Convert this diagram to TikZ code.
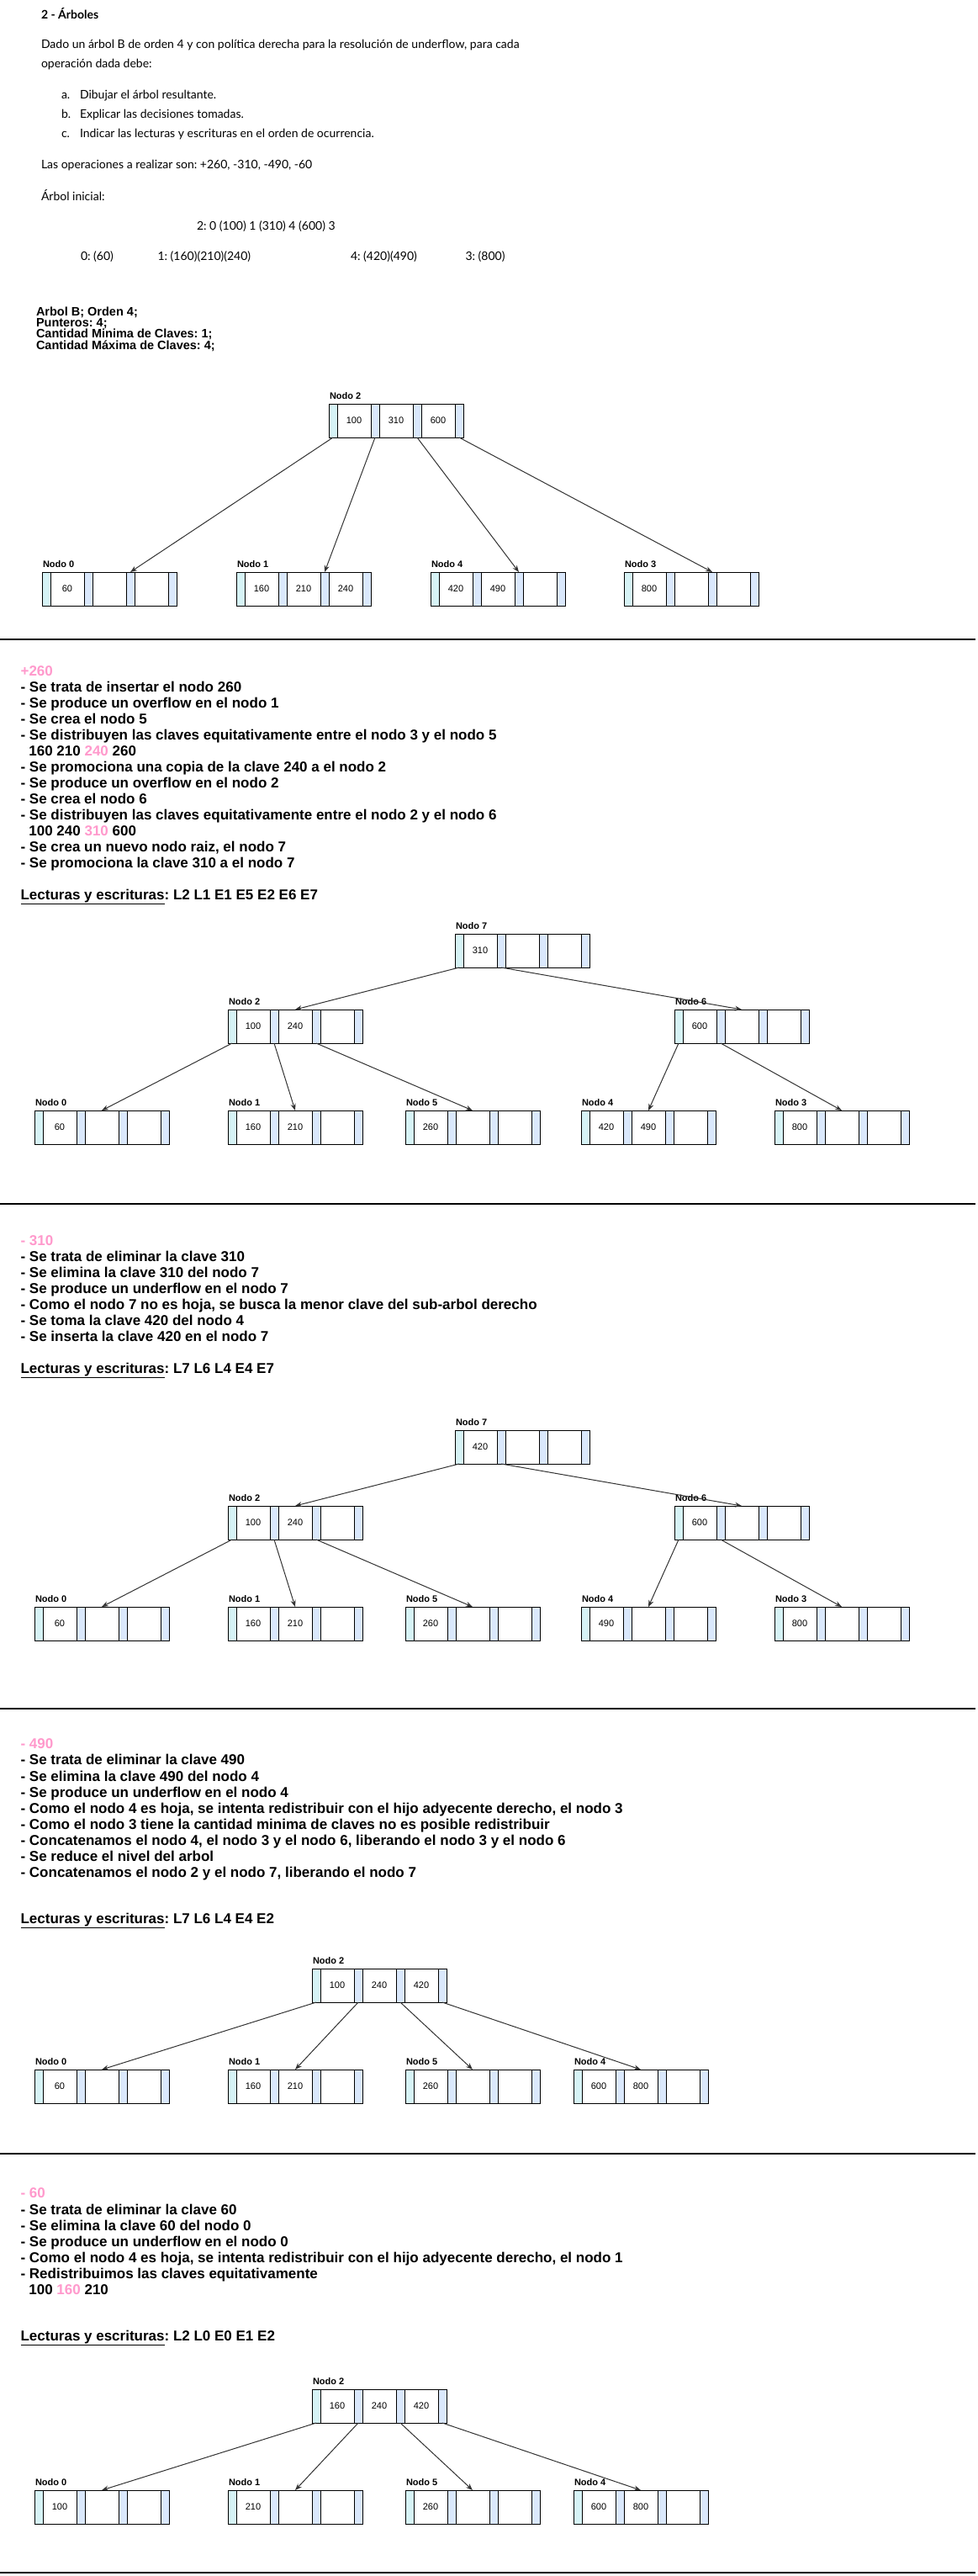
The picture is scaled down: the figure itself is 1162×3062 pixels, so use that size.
\documentclass[tikz,border=0pt]{standalone}
\usepackage{fontspec}
\setmainfont{Liberation Sans}
\newfontfamily\topfont{Lato}
\usetikzlibrary{arrows.meta}
\frenchspacing
\definecolor{pinkop}{HTML}{FF99CC}
\definecolor{ptrfirst}{HTML}{D6F3F6}
\definecolor{ptrrest}{HTML}{DAE8FC}
\definecolor{edgecol}{HTML}{333333}
\tikzset{
 every node/.style={inner sep=0pt, outer sep=0pt},
 ptrA/.style={draw=black, line width=1pt, fill=ptrfirst, minimum width=10pt, minimum height=40pt},
 ptrB/.style={ptrA, fill=ptrrest},
 cellbox/.style={draw=black, line width=1pt, fill=white, minimum width=40pt, minimum height=40pt, font=\fontsize{11}{13}\selectfont},
 nodolab/.style={anchor=base west, font=\bfseries\fontsize{11}{13}\selectfont},
 edge/.style={draw=edgecol, line width=1pt, -{Stealth[length=8pt,width=6pt]}},
 txt/.style={anchor=base west, font=\frenchspacing\bfseries\fontsize{17}{19}\selectfont},
 smalltxt/.style={anchor=base west, font=\frenchspacing\bfseries\fontsize{14.5}{16}\selectfont},
 toptxt/.style={anchor=base west, font=\frenchspacing\topfont\fontsize{14}{16}\selectfont},
 rule/.style={line width=1.6pt, draw=black}
}
\newcommand\tline[4]{\node[txt] (#1) at ({#2},{#3+6}) {#4};}
\newcommand\topline[4]{\node[toptxt] (#1) at ({#2},{#3+5}) {#4};}
\newcommand\bnode[7]{%
 \node[nodolab] (#1-lab) at ({#2+1},{#3-5.5}) {#4};
 \node[cellbox] (#1-k1) at ({#2+30},{#3+20}) {#5};
 \node[cellbox] (#1-k2) at ({#2+80},{#3+20}) {#6};
 \node[cellbox] (#1-k3) at ({#2+130},{#3+20}) {#7};
 \node[ptrA] (#1-p0) at ({#2+5},{#3+20}) {};
 \node[ptrB] (#1-p1) at ({#2+55},{#3+20}) {};
 \node[ptrB] (#1-p2) at ({#2+105},{#3+20}) {};
 \node[ptrB] (#1-p3) at ({#2+155},{#3+20}) {};
}
\begin{document}
\begin{tikzpicture}[x=1pt,y=-1pt]
\useasboundingbox (0,0) rectangle (1162,3062);
\fill[white] (0,0) rectangle (1162,3062);

% ---------- statement ----------
\node[toptxt, font=\frenchspacing\topfont\bfseries\fontsize{14}{16}\selectfont] (h1) at (49,22) {2 - Árboles};
\topline{p1}{49}{52}{Dado un árbol B de orden 4 y con política derecha para la resolución de underflow, para cada}
\topline{p2}{49}{75}{operación dada debe:}
\topline{la}{73}{112}{a.}
\topline{ta}{95}{112}{Dibujar el árbol resultante.}
\topline{lb}{73}{135}{b.}
\topline{tb}{95}{135}{Explicar las decisiones tomadas.}
\topline{lc}{73}{158}{c.}
\topline{tc}{95}{158}{Indicar las lecturas y escrituras en el orden de ocurrencia.}
\topline{ops}{49}{195}{Las operaciones a realizar son: +260, -310, -490, -60}
\topline{ini}{49}{233}{Árbol inicial:}
\topline{rt}{234}{268}{2: 0 (100) 1 (310) 4 (600) 3}
\topline{c0}{96}{304}{0: (60)}
\topline{c1}{187.5}{304}{1: (160)(210)(240)}
\topline{c4}{417}{304}{4: (420)(490)}
\topline{c3}{553.5}{304}{3: (800)}

\node[smalltxt] (b1) at (43,375) {Arbol B; Orden 4;};
\node[smalltxt] (b2) at (43,388.3) {Punteros: 4;};
\node[smalltxt] (b3) at (43,401.7) {Cantidad Minima de Claves: 1;};
\node[smalltxt] (b4) at (43,415) {Cantidad Máxima de Claves: 4;};

% ---------- tree 1 ----------
\bnode{a-n2}{391}{480}{Nodo 2}{100}{310}{600}
\bnode{a-n0}{50}{680}{Nodo 0}{60}{}{}
\bnode{a-n1}{281}{680}{Nodo 1}{160}{210}{240}
\bnode{a-n4}{512}{680}{Nodo 4}{420}{490}{}
\bnode{a-n3}{742}{680}{Nodo 3}{800}{}{}
\draw[edge] (a-n2-p0.south) -- (a-n0-p2.north);
\draw[edge] (a-n2-p1.south) -- (a-n1-p2.north);
\draw[edge] (a-n2-p2.south) -- (a-n4-p2.north);
\draw[edge] (a-n2-p3.south) -- (a-n3-p2.north);

\draw[rule] (0,760) -- (1160,760);

% ---------- +260 ----------
\tline{s1h}{24.6}{797}{\textcolor{pinkop}{+260}}
\tline{s1a}{24.6}{816}{- Se trata de insertar el nodo 260}
\tline{s1b}{24.6}{835}{- Se produce un overflow en el nodo 1}
\tline{s1c}{24.6}{854}{- Se crea el nodo 5}
\tline{s1d}{24.6}{873}{- Se distribuyen las claves equitativamente entre el nodo 3 y el nodo 5}
\tline{s1e}{34.4}{892}{160 210 \textcolor{pinkop}{240} 260}
\tline{s1f}{24.6}{911}{- Se promociona una copia de la clave 240 a el nodo 2}
\tline{s1g}{24.6}{930}{- Se produce un overflow en el nodo 2}
\tline{s1i}{24.6}{949}{- Se crea el nodo 6}
\tline{s1j}{24.6}{968}{- Se distribuyen las claves equitativamente entre el nodo 2 y el nodo 6}
\tline{s1k}{34.4}{987}{100 240 \textcolor{pinkop}{310} 600}
\tline{s1l}{24.6}{1006}{- Se crea un nuevo nodo raiz, el nodo 7}
\tline{s1m}{24.6}{1025}{- Se promociona la clave 310 a el nodo 7}
\tline{s1n}{24.6}{1063}{\underline{Lecturas y escrituras}: L2 L1 E1 E5 E2 E6 E7}

% ---------- tree 2 ----------
\bnode{b-n7}{541}{1110}{Nodo 7}{310}{}{}
\bnode{b-n2}{271}{1200}{Nodo 2}{100}{240}{}
\bnode{b-n6}{802}{1200}{Nodo 6}{600}{}{}
\bnode{b-n0}{41}{1320}{Nodo 0}{60}{}{}
\bnode{b-n1}{271}{1320}{Nodo 1}{160}{210}{}
\bnode{b-n5}{482}{1320}{Nodo 5}{260}{}{}
\bnode{b-n4}{691}{1320}{Nodo 4}{420}{490}{}
\bnode{b-n3}{921}{1320}{Nodo 3}{800}{}{}
\draw[edge] (b-n7-p0.south) -- (b-n2-k2.north);
\draw[edge] (b-n7-p1.south) -- (b-n6-k2.north);
\draw[edge] (b-n2-p0.south) -- (b-n0-k2.north);
\draw[edge] (b-n2-p1.south) -- (b-n1-k2.north);
\draw[edge] (b-n2-p2.south) -- (b-n5-k2.north);
\draw[edge] (b-n6-p0.south) -- (b-n4-k2.north);
\draw[edge] (b-n6-p1.south) -- (b-n3-k2.north);

\draw[rule] (0,1431) -- (1160,1431);

% ---------- -310 ----------
\tline{s2h}{24.6}{1474}{\textcolor{pinkop}{- 310}}
\tline{s2a}{24.6}{1493}{- Se trata de eliminar la clave 310}
\tline{s2b}{24.6}{1512}{- Se elimina la clave 310 del nodo 7}
\tline{s2c}{24.6}{1531}{- Se produce un underflow en el nodo 7}
\tline{s2d}{24.6}{1550}{- Como el nodo 7 no es hoja, se busca la menor clave del sub-arbol derecho}
\tline{s2e}{24.6}{1569}{- Se toma la clave 420 del nodo 4}
\tline{s2f}{24.6}{1588}{- Se inserta la clave 420 en el nodo 7}
\tline{s2g}{24.6}{1626}{\underline{Lecturas y escrituras}: L7 L6 L4 E4 E7}

% ---------- tree 3 ----------
\bnode{c-n7}{541}{1700}{Nodo 7}{420}{}{}
\bnode{c-n2}{271}{1790}{Nodo 2}{100}{240}{}
\bnode{c-n6}{802}{1790}{Nodo 6}{600}{}{}
\bnode{c-n0}{41}{1910}{Nodo 0}{60}{}{}
\bnode{c-n1}{271}{1910}{Nodo 1}{160}{210}{}
\bnode{c-n5}{482}{1910}{Nodo 5}{260}{}{}
\bnode{c-n4}{691}{1910}{Nodo 4}{490}{}{}
\bnode{c-n3}{921}{1910}{Nodo 3}{800}{}{}
\draw[edge] (c-n7-p0.south) -- (c-n2-k2.north);
\draw[edge] (c-n7-p1.south) -- (c-n6-k2.north);
\draw[edge] (c-n2-p0.south) -- (c-n0-k2.north);
\draw[edge] (c-n2-p1.south) -- (c-n1-k2.north);
\draw[edge] (c-n2-p2.south) -- (c-n5-k2.north);
\draw[edge] (c-n6-p0.south) -- (c-n4-k2.north);
\draw[edge] (c-n6-p1.south) -- (c-n3-k2.north);

\draw[rule] (0,2031) -- (1160,2031);

% ---------- -490 ----------
\tline{s3h}{24.6}{2072.7}{\textcolor{pinkop}{- 490}}
\tline{s3a}{24.6}{2091.7}{- Se trata de eliminar la clave 490}
\tline{s3b}{24.6}{2111}{- Se elimina la clave 490 del nodo 4}
\tline{s3c}{24.6}{2130}{- Se produce un underflow en el nodo 4}
\tline{s3d}{24.6}{2149}{- Como el nodo 4 es hoja, se intenta redistribuir con el hijo adyecente derecho, el nodo 3}
\tline{s3e}{24.6}{2168}{- Como el nodo 3 tiene la cantidad minima de claves no es posible redistribuir}
\tline{s3f}{24.6}{2187}{- Concatenamos el nodo 4, el nodo 3 y el nodo 6, liberando el nodo 3 y el nodo 6}
\tline{s3g}{24.6}{2206}{- Se reduce el nivel del arbol}
\tline{s3i}{24.6}{2225}{- Concatenamos el nodo 2 y el nodo 7, liberando el nodo 7}
\tline{s3j}{24.6}{2280.7}{\underline{Lecturas y escrituras}: L7 L6 L4 E4 E2}

% ---------- tree 4 ----------
\bnode{d-n2}{371}{2340}{Nodo 2}{100}{240}{420}
\bnode{d-n0}{41}{2460}{Nodo 0}{60}{}{}
\bnode{d-n1}{271}{2460}{Nodo 1}{160}{210}{}
\bnode{d-n5}{482}{2460}{Nodo 5}{260}{}{}
\bnode{d-n4}{682}{2460}{Nodo 4}{600}{800}{}
\draw[edge] (d-n2-p0.south) -- (d-n0-k2.north);
\draw[edge] (d-n2-p1.south) -- (d-n1-k2.north);
\draw[edge] (d-n2-p2.south) -- (d-n5-k2.north);
\draw[edge] (d-n2-p3.south) -- (d-n4-k2.north);

\draw[rule] (0,2560) -- (1160,2560);

% ---------- -60 ----------
\tline{s4h}{24.6}{2606.7}{\textcolor{pinkop}{- 60}}
\tline{s4a}{24.6}{2626}{- Se trata de eliminar la clave 60}
\tline{s4b}{24.6}{2645}{- Se elimina la clave 60 del nodo 0}
\tline{s4c}{24.6}{2664}{- Se produce un underflow en el nodo 0}
\tline{s4d}{24.6}{2683}{- Como el nodo 4 es hoja, se intenta redistribuir con el hijo adyecente derecho, el nodo 1}
\tline{s4e}{24.6}{2702}{- Redistribuimos las claves equitativamente}
\tline{s4f}{34.4}{2721}{100 \textcolor{pinkop}{160} 210}
\tline{s4g}{24.6}{2776.7}{\underline{Lecturas y escrituras}: L2 L0 E0 E1 E2}

% ---------- tree 5 ----------
\bnode{e-n2}{371}{2840}{Nodo 2}{160}{240}{420}
\bnode{e-n0}{41}{2960}{Nodo 0}{100}{}{}
\bnode{e-n1}{271}{2960}{Nodo 1}{210}{}{}
\bnode{e-n5}{482}{2960}{Nodo 5}{260}{}{}
\bnode{e-n4}{682}{2960}{Nodo 4}{600}{800}{}
\draw[edge] (e-n2-p0.south) -- (e-n0-k2.north);
\draw[edge] (e-n2-p1.south) -- (e-n1-k2.north);
\draw[edge] (e-n2-p2.south) -- (e-n5-k2.north);
\draw[edge] (e-n2-p3.south) -- (e-n4-k2.north);

\draw[rule] (0,3058) -- (1160,3058);
\end{tikzpicture}
\end{document}
